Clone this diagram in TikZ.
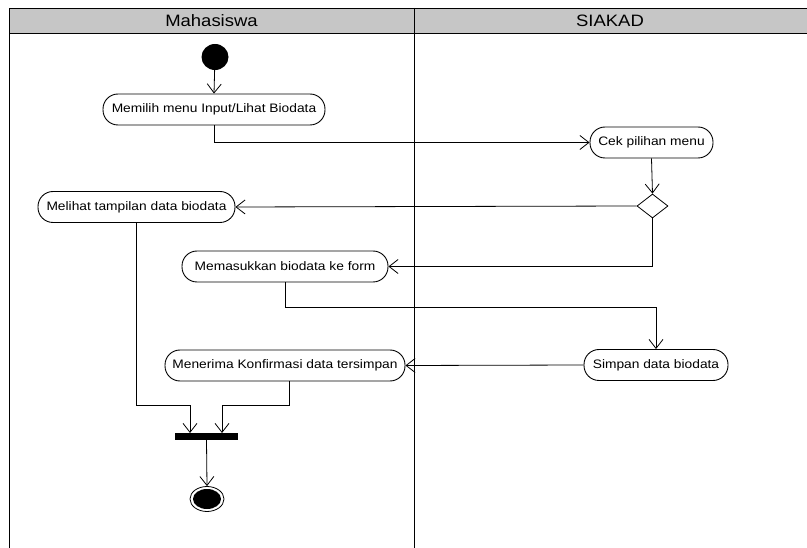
\documentclass[tikz,border=0pt]{standalone}
\usepackage{fontspec}
\setmainfont{Liberation Sans}[FakeStretch=1.12]
\usetikzlibrary{arrows.meta,shapes.geometric}
\begin{document}
\begin{tikzpicture}[x=1pt,y=-1pt,
  act/.style={draw,line width=0.9pt,rounded corners=15pt,minimum height=31pt,inner sep=0pt,font=\fontsize{12.3}{14}\selectfont,fill=white},
  flow/.style={draw,line width=0.8pt,-{Straight Barb[length=9pt,width=14pt,line width=0.8pt]}},
  lane/.style={draw,line width=0.8pt},
  head/.style={font=\fontsize{16.5}{18}\selectfont}]
\useasboundingbox (0,0) rectangle (807,548);
% swimlane header and lane borders
\fill[gray!45] (9,8) rectangle (807,33);
\draw[lane] (807,8) -- (9,8) -- (9,548);
\draw[lane] (9,33) -- (807,33);
\draw[lane] (414,8) -- (414,548);
\node[head] (hmhs) at (211.5,20.5) {Mahasiswa};
\node[head] (hsiakad) at (610,20.5) {SIAKAD};
% start and end
\node[ellipse,fill=black,minimum width=27pt,minimum height=26pt,inner sep=0pt] (start) at (215,57) {};
\node[ellipse,draw,line width=0.8pt,minimum width=34pt,minimum height=25pt,inner sep=0pt] (finish) at (207,499) {};
\fill (207,499) ellipse (14pt and 10pt);
% activities
\node[act,minimum width=222pt] (memilih) at (214,109.5) {Memilih menu Input/Lihat Biodata};
\node[act,minimum width=123pt] (cek) at (651.5,142.5) {Cek pilihan menu};
\node[draw,line width=0.8pt,diamond,minimum width=31pt,minimum height=24pt,inner sep=0pt,aspect=1.3,fill=white] (dec) at (652.5,206) {};
\node[act,minimum width=197pt] (melihat) at (136.5,207) {Melihat tampilan data biodata};
\node[act,minimum width=206pt] (memasuk) at (285,266.5) {Memasukkan biodata ke form};
\node[act,minimum width=144pt] (simpan) at (656,365) {Simpan data biodata};
\node[act,minimum width=240pt] (menerima) at (285,365.5) {Menerima Konfirmasi data tersimpan};
% join bar
\node[fill=black,minimum width=63pt,minimum height=7pt,inner sep=0pt] (bar) at (206.5,436.5) {};
\coordinate (barL) at (190,433);
\coordinate (barR) at (222,433);
\coordinate (mnrOut) at (289,381);
% flows
\draw[flow] (start) -- (memilih.north);
\draw[flow] (memilih.south) |- (cek.west);
\draw[flow] (cek.south) -- (dec.north);
\draw[flow] (dec.west) -- (melihat.east);
\draw[flow] (dec.south) |- (memasuk.east);
\draw[flow] (memasuk.south) -- (memasuk.south |- 0,307) -| (simpan.north);
\draw[flow] (simpan.west) -- (menerima.east);
\draw[flow] (melihat.south) -- (melihat.south |- 0,405) -| (barL);
\draw[flow] (mnrOut) -- (mnrOut |- 0,405) -| (barR);
\draw[flow] (bar.south) -- (finish.north);
\end{tikzpicture}
\end{document}
